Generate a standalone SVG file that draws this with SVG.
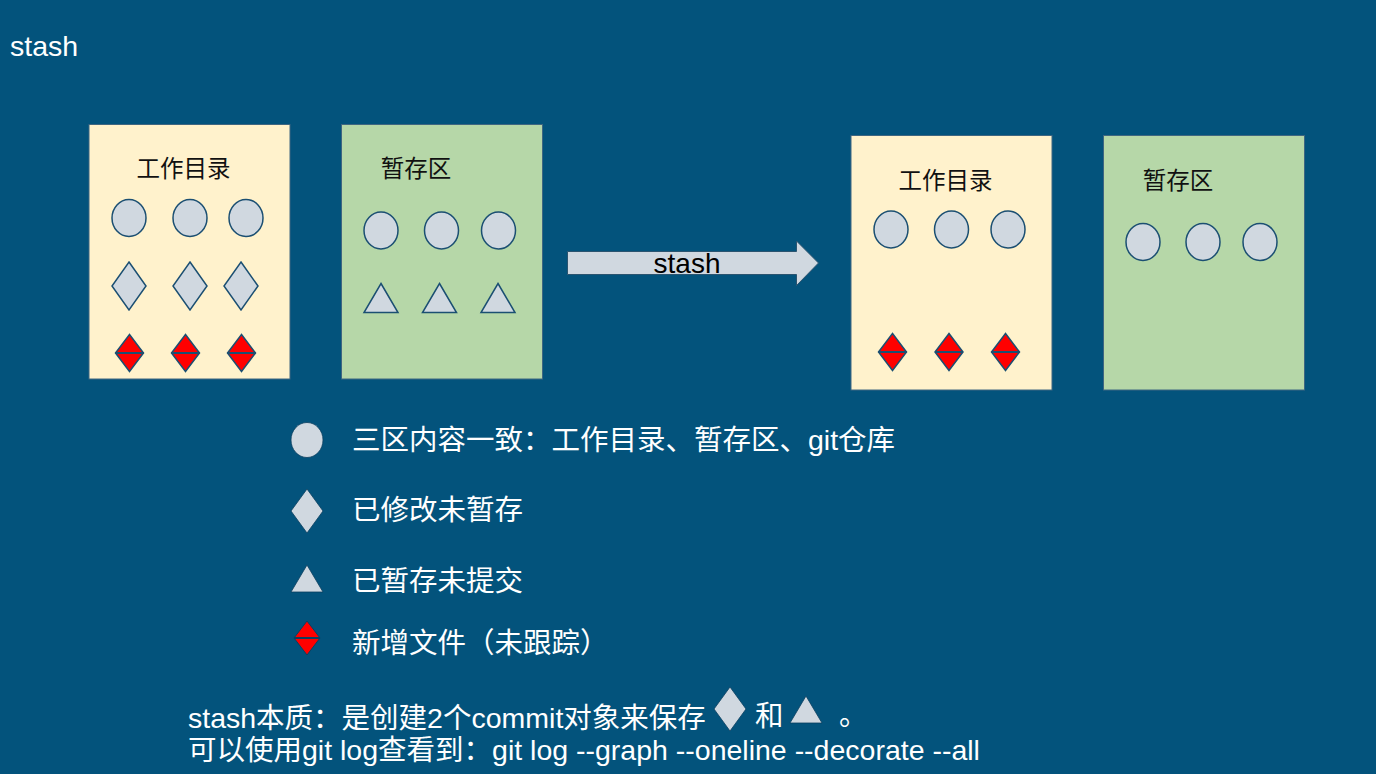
<svg xmlns="http://www.w3.org/2000/svg" width="1376" height="774" viewBox="0 0 1376 774">
<style>
.bg{fill:#03537c}
.box{stroke:#3f6681;stroke-width:1}
.wd{fill:#fff2cc}
.st{fill:#b6d7a8}
.title{font-family:"Noto Sans CJK SC",sans-serif;font-size:23.5px;fill:#111}
.shape{fill:#d0d8e0;stroke:#1b4f72;stroke-width:1.5}
.red{fill:#ff0000;stroke:#1b4f72;stroke-width:1.5}
.lg{fill:#d0d8e0;stroke:#0b3f60;stroke-width:0.8}
.lgred{fill:#ff0000;stroke:#0b3f60;stroke-width:1}
.wt{font-family:"Liberation Sans","Noto Sans CJK SC",sans-serif;font-size:28.5px;fill:#ffffff}
.bk{font-family:"Liberation Sans","Noto Sans CJK SC",sans-serif;font-size:28px;fill:#000000}
</style>
<defs>
<g id="circ"><ellipse class="shape" cx="0" cy="0" rx="17" ry="18.5"/></g>
<g id="dia"><polygon class="shape" points="0,-24 17,0 0,24 -17,0"/></g>
<g id="rdia"><polygon class="red" points="0,-18.5 14,0 0,18.5 -14,0"/><line x1="-14" y1="0" x2="14" y2="0" stroke="#1b4f72" stroke-width="2"/></g>
<g id="tri"><polygon class="shape" points="0,-14.5 17,14.5 -17,14.5"/></g>
</defs>
<rect class="bg" x="0" y="0" width="1376" height="774"/>
<text id="page-title" class="wt" x="10" y="56" font-size="27">stash</text>

<g id="wd-before">
<rect class="box wd" x="89" y="124.5" width="201" height="254.5"/>
<text class="title" x="183.5" y="177" text-anchor="middle">工作目录</text>
<use href="#circ" x="129" y="218"/><use href="#circ" x="190" y="218"/><use href="#circ" x="246" y="218"/>
<use href="#dia" x="129" y="286"/><use href="#dia" x="190" y="286"/><use href="#dia" x="241" y="286"/>
<use href="#rdia" x="129.5" y="353"/><use href="#rdia" x="185.5" y="353"/><use href="#rdia" x="241.5" y="353"/>
</g>

<g id="stage-before">
<rect class="box st" x="341.5" y="124.5" width="201" height="254.5"/>
<text class="title" x="416" y="177" text-anchor="middle">暂存区</text>
<use href="#circ" x="381" y="230.5"/><use href="#circ" x="441.5" y="230.5"/><use href="#circ" x="498.5" y="230.5"/>
<use href="#tri" x="381" y="298"/><use href="#tri" x="439.5" y="298"/><use href="#tri" x="498" y="298"/>
</g>

<g id="connectors">
<g id="arrow-stash">
<polygon points="567.5,251.5 796.5,251.5 796.5,241 818.5,263 796.5,285.5 796.5,274.5 567.5,274.5" fill="#d0d8e0" stroke="#2b5470" stroke-width="1"/>
<text class="bk" x="687" y="273" text-anchor="middle">stash</text>
</g>
</g>

<g id="wd-after">
<rect class="box wd" x="851" y="135.5" width="201" height="254.5"/>
<text class="title" x="945.5" y="189" text-anchor="middle">工作目录</text>
<use href="#circ" x="891" y="229.5"/><use href="#circ" x="951.5" y="229.5"/><use href="#circ" x="1008" y="229.5"/>
<use href="#rdia" x="892.5" y="352"/><use href="#rdia" x="949" y="352"/><use href="#rdia" x="1005.5" y="352"/>
</g>

<g id="stage-after">
<rect class="box st" x="1103.5" y="135.5" width="201" height="254.5"/>
<text class="title" x="1178" y="189" text-anchor="middle">暂存区</text>
<use href="#circ" x="1143" y="242"/><use href="#circ" x="1203" y="242"/><use href="#circ" x="1260" y="242"/>
</g>

<g id="legend">
<g id="legend-same">
<ellipse class="lg" cx="307" cy="440" rx="16" ry="17.5"/>
<text class="wt" x="352" y="450">三区内容一致：工作目录、暂存区、git仓库</text>
</g>
<g id="legend-modified">
<polygon class="lg" points="307,489 323,511 307,533 291,511"/>
<text class="wt" x="352" y="520">已修改未暂存</text>
</g>
<g id="legend-staged">
<polygon class="lg" points="307,565 323,592 291,592"/>
<text class="wt" x="352" y="591">已暂存未提交</text>
</g>
<g id="legend-new">
<polygon class="lgred" points="307,621 320,638 307,655 294,638"/>
<line x1="294" y1="638" x2="320" y2="638" stroke="#0b3f60" stroke-width="2"/>
<text class="wt" x="352" y="653">新增文件（未跟踪）</text>
</g>
</g>

<g id="note">
<text class="wt" x="188" y="728">stash本质：是创建2个commit对象来保存</text>
<polygon class="lg" points="730,687 746,709 730,731 714,709"/>
<text class="wt" x="755" y="726" font-size="26">和</text>
<polygon class="lg" points="806,696 822,723 790,723"/>
<text class="wt" x="839" y="725" font-size="22">。</text>
<text class="wt" x="188" y="760">可以使用git log查看到：git log --graph --oneline --decorate --all</text>
</g>
</svg>
